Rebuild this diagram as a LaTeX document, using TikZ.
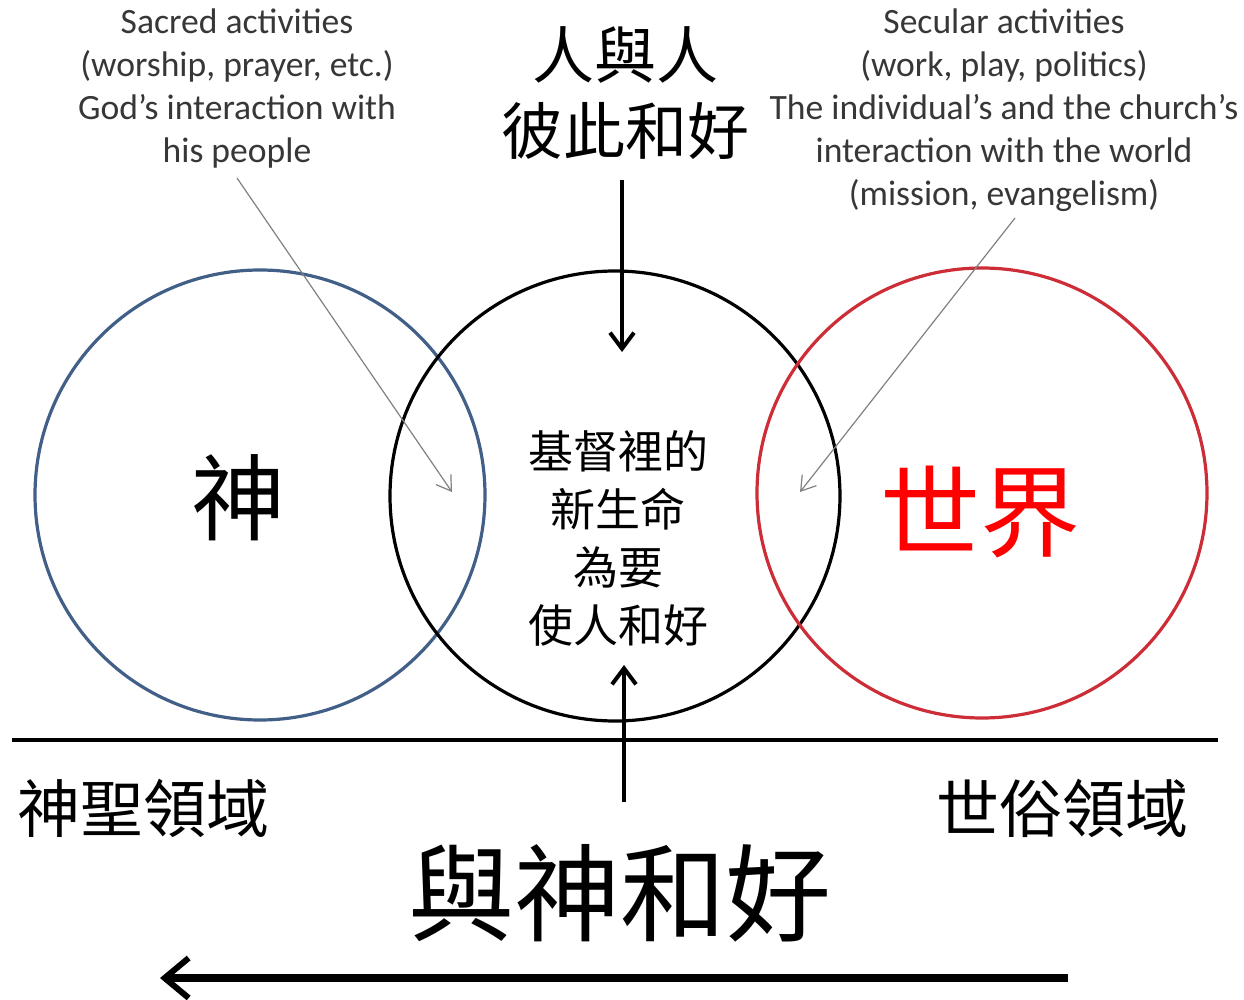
\documentclass[tikz,border=0pt]{standalone}
\usepackage{fontspec}
\setmainfont{Carlito}
\newfontfamily\cjk{Noto Sans CJK TC}
\usetikzlibrary{arrows.meta}
\definecolor{eng}{RGB}{55,55,55}
\definecolor{bluec}{RGB}{65,95,135}
\definecolor{redc}{RGB}{205,45,55}
\begin{document}
\begin{tikzpicture}[x=0.5pt,y=-0.5pt,
  ring/.style={line width=1.6pt},
  note/.style={align=center,text=eng,font=\fontsize{17.8}{21.5}\selectfont,inner sep=0pt},
  ch/.style={font=\cjk,inner sep=0pt,align=center},
  pointer/.style={draw=gray,line width=0.6pt,-{Straight Barb[length=7pt,width=9pt]}},
  bigarrow/.style={line width=2pt,-{Straight Barb[length=8pt,width=12pt,line width=2pt]}}]
\useasboundingbox (0,0) rectangle (1244,1000);
% circles
\draw[ring,draw=bluec] (260,495) circle[radius=225];
\draw[ring,draw=black] (615,496) circle[radius=225];
\draw[ring,draw=redc] (982,493) circle[radius=225];
% baseline
\draw[line width=2pt] (12,740) -- (1218,740);
% notes
\node[note] (sacred) at (237,89) {Sacred activities\\(worship, prayer, etc.)\\God’s interaction with\\his people};
\node[note] (secular) at (1004,110) {Secular activities\\(work, play, politics)\\The individual’s and the church’s\\interaction with the world\\(mission, evangelism)};
\coordinate (sacredtip) at (452,492);
\coordinate (seculartip) at (800,492);
\coordinate (sacredfrom) at (237,178);
\coordinate (secularfrom) at (1015,218);
\draw[pointer] (sacredfrom) -- (sacredtip);
\draw[pointer] (secularfrom) -- (seculartip);
% top chinese
\node[ch,font=\cjk\fontsize{31}{37}\selectfont] (top1) at (625,55) {人與人};
\node[ch,font=\cjk\fontsize{31}{37}\selectfont] (top2) at (625,131) {彼此和好};
\coordinate (downtip) at (622,352);
\draw[bigarrow] (622,180) -- (downtip);
% circle labels
\node[ch,font=\cjk\fontsize{47}{50}\selectfont] (god) at (238,498) {神};
\node[ch,font=\cjk\fontsize{50}{55}\selectfont,text=red] (world) at (980,512) {世界};
\node[ch,font=\cjk\fontsize{22.5}{29}\selectfont] (center) at (618,538) {基督裡的\\新生命\\為要\\使人和好};
% bottom
\coordinate (uptip) at (624,665);
\coordinate (upfrom) at (624,802);
\draw[bigarrow] (upfrom) -- (uptip);
\node[ch,font=\cjk\fontsize{31.5}{34}\selectfont] (sacredrealm) at (144,808) {神聖領域};
\node[ch,font=\cjk\fontsize{31.5}{34}\selectfont] (secularrealm) at (1062,808) {世俗領域};
\node[ch,font=\cjk\fontsize{53}{56}\selectfont] (recon) at (620,893) {與神和好};
\coordinate (leftfrom) at (1068,978);
\coordinate (lefttip) at (160,978);
\draw[line width=4pt,-{Straight Barb[length=12pt,width=20pt,line width=3pt]}] (leftfrom) -- (lefttip);
\end{tikzpicture}
\end{document}
